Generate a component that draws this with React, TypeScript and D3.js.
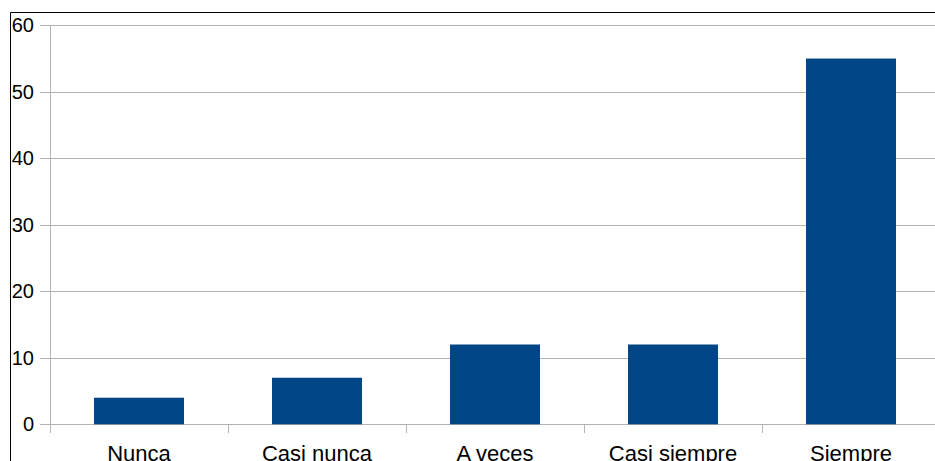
import React, { useRef, useEffect } from 'react';
import * as d3 from 'd3';

const categories = ['Nunca', 'Casi nunca', 'A veces', 'Casi siempre', 'Siempre'];
const values = [4, 7, 12, 12, 55];
const yTicks = [0, 10, 20, 30, 40, 50, 60];

const W = 935;
const H = 461;

const App: React.FC = () => {
  const ref = useRef<SVGSVGElement | null>(null);

  useEffect(() => {
    const svg = d3.select(ref.current);
    svg.selectAll('*').remove();

    const left = 50;
    const right = 940;
    const top = 25.3;
    const bottom = 424.3;

    const x = d3.scaleBand<string>().domain(categories).range([left, right]).paddingInner(0).paddingOuter(0);
    const y = d3.scaleLinear().domain([0, 60]).range([bottom, top]);

    // frame
    svg.append('path')
      .attr('d', `M10.5,${H} V12.5 H${W}`)
      .attr('fill', 'none')
      .attr('stroke', '#000')
      .attr('stroke-width', 1);

    // gridlines
    svg.append('g').selectAll('line')
      .data(yTicks)
      .enter().append('line')
      .attr('x1', 40)
      .attr('x2', W)
      .attr('y1', d => Math.round(y(d)) + 0.5)
      .attr('y2', d => Math.round(y(d)) + 0.5)
      .attr('stroke', '#b3b3b3')
      .attr('stroke-width', 1);

    // y labels
    svg.append('g').selectAll('text')
      .data(yTicks)
      .enter().append('text')
      .attr('x', 34)
      .attr('y', d => y(d) + 7)
      .attr('text-anchor', 'end')
      .attr('font-family', 'Liberation Sans, Arial, sans-serif')
      .attr('font-size', 20)
      .attr('fill', '#000')
      .text(d => d);

    // bars
    const barW = 90;
    svg.append('g').selectAll('rect')
      .data(values)
      .enter().append('rect')
      .attr('x', (d, i) => (x(categories[i]) ?? 0) + x.bandwidth() / 2 - barW / 2)
      .attr('y', d => y(d))
      .attr('width', barW)
      .attr('height', d => y(0) - y(d))
      .attr('fill', '#004586');

    // y axis line
    svg.append('line')
      .attr('x1', left + 0.5)
      .attr('x2', left + 0.5)
      .attr('y1', top)
      .attr('y2', 433)
      .attr('stroke', '#b3b3b3');

    // category ticks
    const bounds = categories.map(c => x(c) ?? 0).slice(1);
    svg.append('g').selectAll('line')
      .data(bounds)
      .enter().append('line')
      .attr('x1', d => Math.round(d) + 0.5)
      .attr('x2', d => Math.round(d) + 0.5)
      .attr('y1', bottom)
      .attr('y2', 433)
      .attr('stroke', '#b3b3b3');

    // category labels
    svg.append('g').selectAll('text')
      .data(categories)
      .enter().append('text')
      .attr('x', d => (x(d) ?? 0) + x.bandwidth() / 2)
      .attr('y', 461)
      .attr('text-anchor', 'middle')
      .attr('font-family', 'Liberation Sans, Arial, sans-serif')
      .attr('font-size', 22)
      .attr('fill', '#000')
      .text(d => d);
  }, []);

  return (
    <svg
      ref={ref}
      width={W}
      height={H}
      style={{ position: 'absolute', left: 0, top: 0, display: 'block', background: '#fff' }}
    />
  );
};

export default App;
